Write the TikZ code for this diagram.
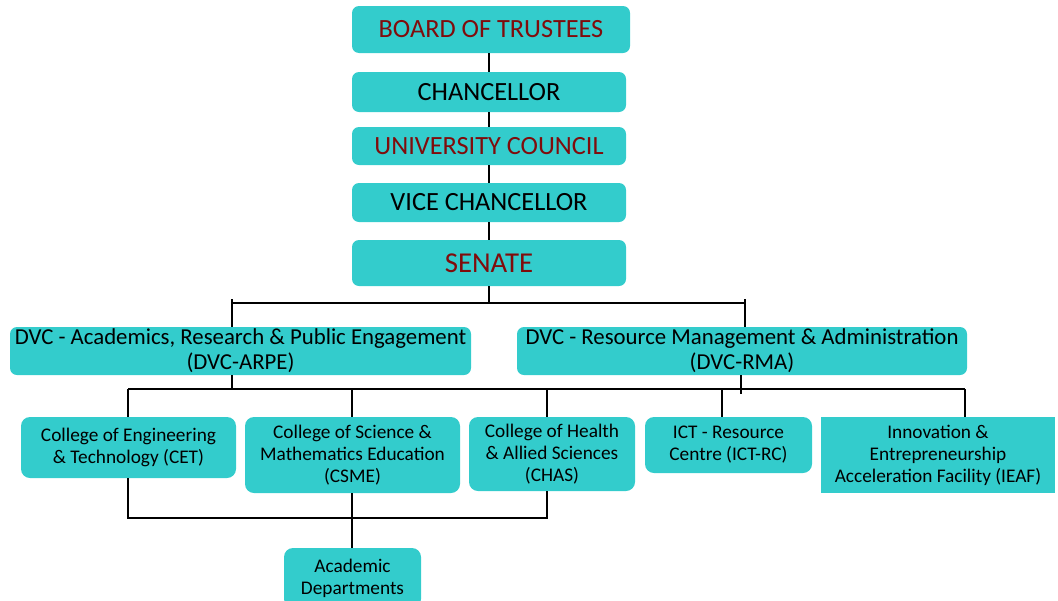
\documentclass[tikz,border=0pt]{standalone}
\usepackage{fontspec}
\setmainfont{Carlito}
\definecolor{boxfill}{RGB}{51,204,204}
\definecolor{darkredtxt}{RGB}{128,12,12}
\begin{document}
\begin{tikzpicture}[x=1pt,y=-1pt,
  box/.style={fill=boxfill, rounded corners=7pt, inner sep=0pt, align=center, text=black},
  topbox/.style={box, font=\fontsize{26.3}{30}\selectfont},
  dvcbox/.style={box, font=\fontsize{22.8}{25}\selectfont},
  colbox/.style={box, rounded corners=9pt, font=\fontsize{19.3}{22}\selectfont},
  link/.style={draw=black, line width=2pt}]
\useasboundingbox (0,0) rectangle (1058,600);
\clip (0,0) rectangle (1058,600);

% top chain
\node[topbox, text=darkredtxt, minimum width=278, minimum height=47] (bot) at (491,29.5) {BOARD OF TRUSTEES};
\node[topbox, minimum width=274, minimum height=40] (chan) at (489,92) {CHANCELLOR};
\node[topbox, text=darkredtxt, minimum width=274, minimum height=38] (uc) at (489,146) {UNIVERSITY COUNCIL};
\node[topbox, minimum width=274, minimum height=39] (vc) at (489,202.5) {VICE CHANCELLOR};
\node[topbox, text=darkredtxt, font=\fontsize{28.8}{32}\selectfont, minimum width=274, minimum height=46] (sen) at (489,263) {SENATE};

% DVCs
\node[dvcbox, minimum width=461, minimum height=48] (arpe) at (240.5,351) {DVC - Academics, Research \& Public Engagement\\(DVC-ARPE)};
\node[dvcbox, minimum width=450, minimum height=48] (rma) at (742,351) {DVC - Resource Management \& Administration\\(DVC-RMA)};

% colleges / units
\node[colbox, minimum width=215, minimum height=61] (cet) at (128.5,447.5) {College of Engineering\\\& Technology (CET)};
\node[colbox, minimum width=215, minimum height=76] (csme) at (352.5,455) {College of Science \&\\Mathematics Education\\(CSME)};
\node[colbox, minimum width=166, minimum height=74] (chas) at (552,454) {College of Health\\\& Allied Sciences\\(CHAS)};
\node[colbox, minimum width=167, minimum height=56] (ict) at (728.5,445) {ICT - Resource\\Centre (ICT-RC)};
\node[colbox, rounded corners=0pt, minimum width=234, minimum height=76] (ieaf) at (938,455) {Innovation \&\\Entrepreneurship\\Acceleration Facility (IEAF)};
\node[colbox, minimum width=137, minimum height=60] (acad) at (352.5,578) {Academic\\Departments};

% connectors top chain
\draw[link] (chan.north |- bot.south) -- (chan.north);
\draw[link] (chan.south) -- (uc.north);
\draw[link] (uc.south) -- (vc.north);
\draw[link] (vc.south) -- (sen.north);

% senate to DVCs
\coordinate (hl) at (232,303);
\coordinate (hr) at (745,303);
\coordinate (hlt) at (232,299);
\coordinate (hrt) at (745,299);
\draw[link] (sen.south) -- (sen.south |- hl);
\draw[link] (hl) -- (hr);
\draw[link] (hlt) -- (hlt |- arpe.north);
\draw[link] (hrt) -- (hrt |- rma.north);

% DVCs to units
\coordinate (bl) at (128,389);
\coordinate (br) at (965,389);
\coordinate (da) at (232,389);
\coordinate (dr) at (741,394);
\coordinate (dcs) at (352,389);
\coordinate (dch) at (547,389);
\coordinate (dic) at (722,389);
\draw[link] (bl) -- (br);
\draw[link] (da |- arpe.south) -- (da);
\draw[link] (dr |- rma.south) -- (dr);
\draw[link] (bl) -- (bl |- cet.north);
\draw[link] (dcs) -- (dcs |- csme.north);
\draw[link] (dch) -- (dch |- chas.north);
\draw[link] (dic) -- (dic |- ict.north);
\draw[link] (br) -- (br |- ieaf.north);

% bottom bracket
\coordinate (cb) at (128,518);
\coordinate (hb) at (547,518);
\draw[link] (cb |- cet.south) -- (cb) -- (hb) -- (hb |- chas.south);
\draw[link] (dcs |- csme.south) -- (dcs |- acad.north);
\end{tikzpicture}
\end{document}
